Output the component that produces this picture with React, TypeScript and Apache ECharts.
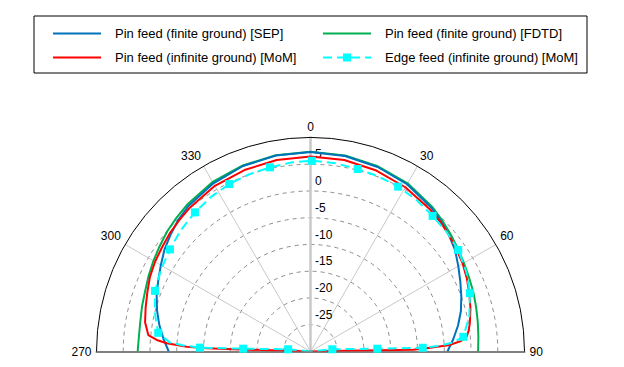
import React, { useEffect, useRef } from 'react';
import * as echarts from 'echarts';

const FONT = '"Liberation Sans", Arial, Helvetica, sans-serif';

const seriesNames = [
  'Pin feed (finite ground) [SEP]',
  'Pin feed (finite ground) [FDTD]',
  'Pin feed (infinite ground) [MoM]',
  'Edge feed (infinite ground) [MoM]',
];

const angleTicks = [-90, -60, -30, 0, 30, 60, 90];
const radiusMin = -30;
const radiusMax = 10;
const radiusStep = 5;

// Pin feed (finite ground) [SEP]
const sepAngles = [-90, -85, -80, -75, -70, -65, -60, -55, -50, -45, -40, -30, -20, -10, 0, 10, 20, 30, 40, 45, 50, 55, 60, 65, 70, 75, 80, 85, 90];
const sepValues = [-3.5, -2.4, -1.3, -0.3, 0.6, 1.4, 2.3, 3.3, 4.1, 4.9, 5.5, 6.3, 6.9, 7.2, 7.3, 7.1, 6.7, 6.1, 5.1, 4.5, 3.8, 3.0, 1.9, 0.9, 0.0, -0.9, -2.0, -3.2, -4.4];

// Pin feed (finite ground) [FDTD]
const fdtdAngles = [-90, -85, -80, -75, -70, -65, -60, -55, -50, -45, -40, -30, -20, -10, 0, 10, 20, 30, 40, 45, 50, 55, 60, 65, 70, 75, 80, 85, 90];
const fdtdValues = [2.3, 2.2, 2.3, 2.6, 2.9, 3.4, 3.9, 4.4, 4.95, 5.4, 5.85, 6.6, 7.0, 7.25, 7.35, 7.2, 6.85, 6.3, 5.35, 4.75, 4.15, 3.6, 3.1, 2.7, 2.4, 2.05, 1.75, 1.5, 1.33];

// Pin feed (infinite ground) [MoM]
const momAngles = [-90, -88.1, -88.4, -88.2, -87.8, -86.7, -85.7, -84.2, -80, -75, -70, -65, -60, -55, -50, -45, -40, -30, -20, -10, 0, 10, 20, 30, 40, 45, 50, 55, 60, 65, 70, 75, 80, 82.5, 84.6, 86, 87.3, 88.4, 89.0, 88.9, 88.7, 90];
const momValues = [-30, -24.3, -16.8, -10.6, -6.84, -3.08, -1.18, 0.47, 1.4, 1.9, 2.45, 3.1, 3.55, 3.9, 4.35, 4.7, 5.1, 5.75, 6.1, 6.35, 6.45, 6.35, 6.0, 5.45, 4.7, 4.3, 3.8, 3.3, 2.85, 2.25, 1.6, 0.95, 0.24, -0.2, -0.67, -1.8, -3.9, -8.28, -10.84, -17, -23.55, -30];

// Edge feed (infinite ground) [MoM]
const edgeAngles = [-90, -84.3, -87.6, -88.0, -87.3, -86.3, -83.0, -76, -68.7, -61, -54.0, -47, -39.7, -33, -25.9, -19, -12.4, -6, 0.4, 7.5, 14.5, 21, 28, 35, 42, 49, 55.5, 63, 69.9, 77.5, 84.5, 86.5, 87.5, 88.1, 87.6, 84.2, 90];
const edgeValues = [-30, -25.8, -17.4, -9.33, -6.2, -3.6, -1.33, 0.0, 1.19, 1.9, 2.47, 3.2, 3.81, 4.35, 4.79, 5.05, 5.25, 5.5, 5.66, 5.5, 5.23, 5.1, 4.9, 4.55, 4.11, 3.85, 3.51, 2.7, 1.74, 0.4, -1.31, -3.5, -6.0, -9.01, -17.5, -25.9, -30];
const edgeMarked = [0, 1, 1, 1, 0, 0, 1, 0, 1, 0, 1, 0, 1, 0, 1, 0, 1, 0, 1, 0, 1, 0, 1, 0, 1, 0, 1, 0, 1, 0, 1, 0, 0, 1, 1, 1, 0];

const COLORS = ['#0072BD', '#00B050', '#FF0000', '#00FFFF'];

export default function App() {
  const ref = useRef<HTMLDivElement>(null);
  useEffect(() => {
    if (!ref.current) return;
    const chart = echarts.init(ref.current, undefined, { renderer: 'svg' });
    const cx = 310.5;
    const cy = 351.5;
    const R = 214;
    const nRings = (radiusMax - radiusMin) / radiusStep + 1;
    const ringColors = Array.from({ length: nRings }, (_, i) => (i === nRings - 1 || i === 0 ? 'rgba(0,0,0,0)' : '#8c8c8c'));
    const spokeColors = angleTicks.map((a) => (Math.abs(a) === 90 ? 'rgba(0,0,0,0)' : '#c8c8c8'));
    const hiddenAngle = { type: 'value', min: 0, max: 360, show: false };
    const baseRadius = { type: 'value', min: radiusMin, max: radiusMax, interval: radiusStep };

    const lineSeries = (name: string, angles: number[], values: number[], color: string, z: number) => ({
      type: 'line',
      name,
      coordinateSystem: 'polar',
      polarIndex: 0,
      data: angles.map((a, i) => [values[i], a]),
      symbol: 'none',
      lineStyle: { color, width: 2 },
      itemStyle: { color },
      z,
    });

    const legendCommon = {
      orient: 'vertical',
      padding: 0,
      itemWidth: 48,
      itemHeight: 10,
      itemGap: 11,
      selectedMode: false,
      textStyle: { fontSize: 13, fontFamily: FONT, color: '#000', padding: [0, 0, 0, 9] },
    };
    const plainItem = (name: string) => ({ name, itemStyle: { color: 'rgba(0,0,0,0)', borderWidth: 0 } });

    chart.setOption({
      animation: false,
      backgroundColor: '#fff',
      textStyle: { fontFamily: FONT },
      legend: [
        { ...legendCommon, left: 52, top: 27, data: [plainItem(seriesNames[0]), plainItem(seriesNames[2])] },
        { ...legendCommon, left: 322, top: 27, data: [plainItem(seriesNames[1]), seriesNames[3]] },
      ],
      graphic: [
        {
          type: 'rect',
          silent: true,
          shape: { x: 34, y: 16, width: 553, height: 57 },
          style: { fill: 'none', stroke: '#000', lineWidth: 1 },
        },
      ],
      polar: [
        { center: [cx, cy], radius: R },
        { center: [cx, cy], radius: R },
        { center: [cx, cy], radius: R },
      ],
      angleAxis: [
        {
          polarIndex: 0,
          type: 'value',
          min: -90,
          max: 90,
          interval: 30,
          startAngle: 180,
          endAngle: 0,
          clockwise: true,
          axisLine: { show: true, lineStyle: { color: '#000', width: 1 } },
          axisTick: { show: false },
          axisLabel: {
            margin: 5,
            fontSize: 12,
            color: '#000',
            fontFamily: FONT,
            formatter: (v: number) => String(v < 0 ? v + 360 : v),
          },
          splitLine: { show: true, lineStyle: { color: spokeColors, width: 1 } },
        },
        { ...hiddenAngle, polarIndex: 1, startAngle: 90 },
        { ...hiddenAngle, polarIndex: 2, startAngle: 0 },
      ],
      radiusAxis: [
        {
          ...baseRadius,
          polarIndex: 0,
          axisLine: { show: true, lineStyle: { color: '#808080', width: 2 } },
          axisTick: { show: false },
          axisLabel: { show: false },
          splitLine: { show: true, lineStyle: { color: ringColors, type: [4, 4], width: 1 } },
        },
        {
          ...baseRadius,
          polarIndex: 1,
          axisLine: { show: true, lineStyle: { color: '#c8c8c8', width: 2.5 } },
          axisTick: { show: false },
          axisLabel: {
            show: true,
            showMinLabel: false,
            showMaxLabel: false,
            fontSize: 12,
            color: '#000',
            fontFamily: FONT,
            margin: -4.5,
            align: 'left',
            verticalAlign: 'bottom',
            padding: [0, 0, 4, 0],
          },
          splitLine: { show: false },
        },
        {
          ...baseRadius,
          polarIndex: 2,
          axisLine: { show: true, lineStyle: { color: '#808080', width: 2 } },
          axisTick: { show: false },
          axisLabel: { show: false },
          splitLine: { show: false },
        },
      ],
      series: [
        lineSeries(seriesNames[1], fdtdAngles, fdtdValues, COLORS[1], 2),
        lineSeries(seriesNames[0], sepAngles, sepValues, COLORS[0], 3),
        lineSeries(seriesNames[2], momAngles, momValues, COLORS[2], 4),
        {
          type: 'line',
          name: seriesNames[3],
          coordinateSystem: 'polar',
          polarIndex: 0,
          data: edgeAngles.map((a, i) => ({ value: [edgeValues[i], a], symbol: edgeMarked[i] ? 'rect' : 'none' })),
          symbol: 'rect',
          symbolSize: 8,
          showSymbol: true,
          showAllSymbol: true,
          lineStyle: { color: COLORS[3], width: 2, type: [9, 5] },
          itemStyle: { color: COLORS[3] },
          z: 5,
        },
      ],
    });
    return () => chart.dispose();
  }, []);
  return <div ref={ref} style={{ position: 'fixed', left: 0, top: 0, width: 624, height: 367 }} />;
}
